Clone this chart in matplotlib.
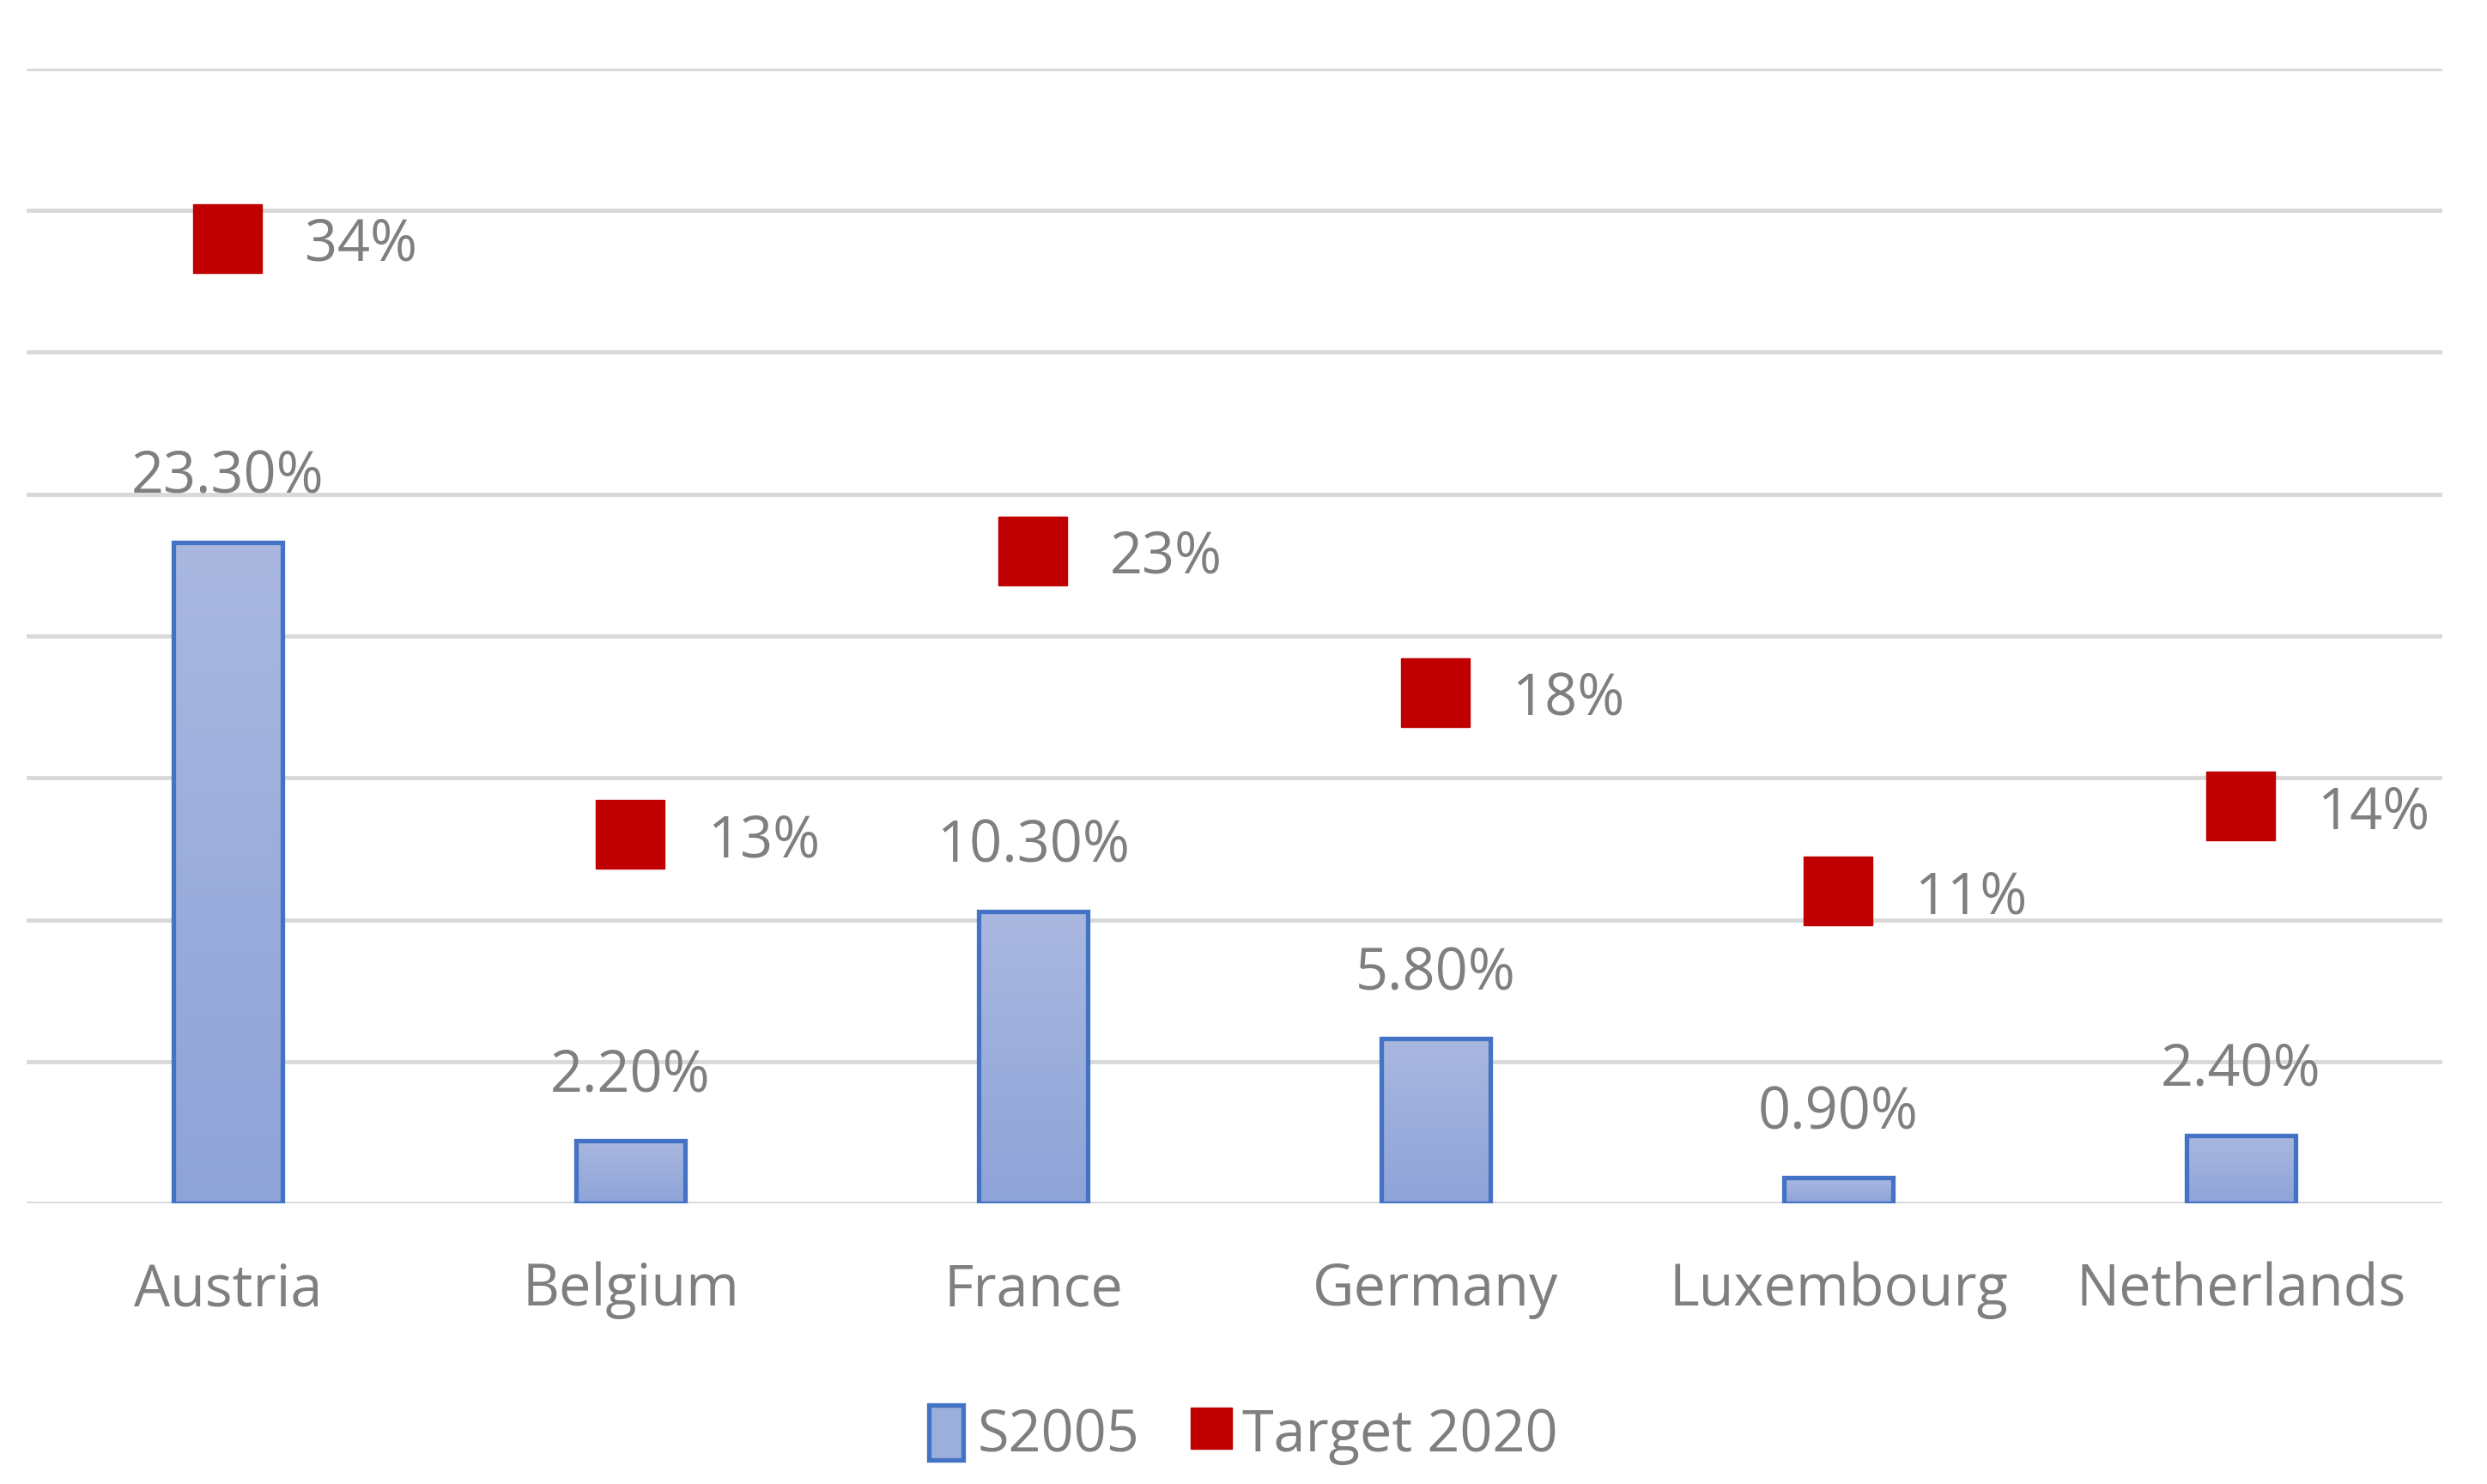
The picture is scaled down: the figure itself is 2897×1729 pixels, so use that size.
import numpy as np
import matplotlib
matplotlib.use("Agg")
import matplotlib.pyplot as plt
from matplotlib.patches import Rectangle
from matplotlib.lines import Line2D
from matplotlib.colors import LinearSegmentedColormap

categories = ["Austria", "Belgium", "France", "Germany", "Luxembourg", "Netherlands"]
s2005 = [23.3, 2.2, 10.3, 5.8, 0.9, 2.4]
target2020 = [34, 13, 23, 18, 11, 14]
s2005_labels = ["23.30%", "2.20%", "10.30%", "5.80%", "0.90%", "2.40%"]
target_labels = ["34%", "13%", "23%", "18%", "11%", "14%"]
series_names = ["S2005", "Target 2020"]

plt.rcParams['font.family'] = ['Open Sans', 'DejaVu Sans']
GRAY = "#7F7F7F"
EDGE = "#4472C4"
RED = "#C00000"
FS = 48

fig = plt.figure(figsize=(28.97, 17.29), dpi=100)
ax = fig.add_axes([0.0107, 0.189, 0.9713, 0.765])
for s in ax.spines.values():
    s.set_visible(False)
ax.set_yticks(np.arange(0, 41, 5))
ax.yaxis.grid(True, color="#D9D9D9", linewidth=3.5)
ax.set_axisbelow(True)
ax.tick_params(axis='y', left=False, labelleft=False)
ax.tick_params(axis='x', bottom=False, labelsize=FS, labelcolor=GRAY, pad=45)
x = np.arange(len(categories))
ax.set_xticks(x)
ax.set_xticklabels(categories)

cmap = LinearSegmentedColormap.from_list("g", ["#8EA3D8", "#AAB8E0"])
grad = np.linspace(0, 1, 256).reshape(-1, 1)
w = 0.27
for xi, v, lab in zip(x, s2005, s2005_labels):
    ax.imshow(grad, cmap=cmap, origin="lower", aspect="auto",
              extent=(xi - w / 2, xi + w / 2, 0, v), zorder=2, interpolation="bilinear")
    ax.bar(xi, v, width=w, facecolor="none", edgecolor=EDGE, linewidth=3.8, zorder=3)
    ax.text(xi, v + 1.25, lab, ha="center", va="bottom", fontsize=FS, color=GRAY, zorder=4)
ax.set_xlim(-0.5, len(categories) - 0.5)
ax.set_ylim(0, 40)

ax.plot(x, target2020, linestyle="none", marker="s", markersize=57,
        markerfacecolor=RED, markeredgecolor=RED, zorder=5)
for xi, v, lab in zip(x, target2020, target_labels):
    ax.text(xi + 0.19, v - 0.25, lab, ha="left", va="center", fontsize=FS, color=GRAY, zorder=6)

handles = [Rectangle((0, 0), 1, 1, facecolor="#9CAEDC", edgecolor=EDGE, linewidth=3.8),
           Line2D([], [], linestyle="none", marker="s", markersize=34,
                  markerfacecolor=RED, markeredgecolor=RED)]
fig.legend(handles, series_names, loc="center", bbox_to_anchor=(0.5, 0.033), ncol=2,
           frameon=False, fontsize=FS, labelcolor=GRAY, handlelength=0.6, handleheight=1.1,
           handletextpad=0.25, columnspacing=0.95)

fig.savefig("out.png", dpi=100)
